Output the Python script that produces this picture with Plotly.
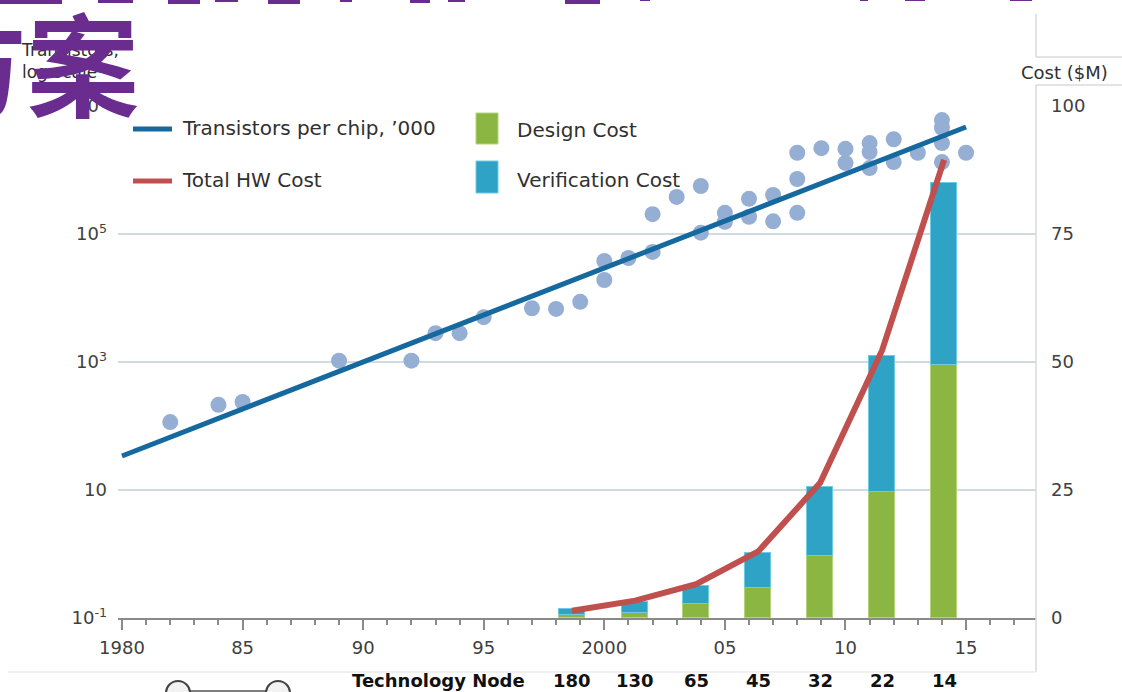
import plotly.graph_objects as go

# ---------------- data ----------------
dot_years = [1982, 1984, 1985, 1989, 1992, 1993, 1994, 1995, 1997, 1998, 1999,
             2000, 2000, 2001, 2002, 2002, 2003, 2004, 2004, 2005, 2005,
             2006, 2006, 2007, 2007, 2008, 2008, 2008, 2009, 2010, 2010,
             2011, 2011, 2011, 2012, 2012, 2013, 2014, 2014, 2014, 2014, 2015]
dot_transistors = [115, 214, 237, 1050, 1050, 2820, 2820, 5010, 6920, 6760, 8710,
                   19100, 38000, 42200, 52500, 204000, 380000, 562000, 105000, 214000, 155000,
                   355000, 186000, 407000, 158000, 1860000, 724000, 214000, 2190000, 2140000, 1290000,
                   2630000, 1910000, 1070000, 3020000, 1330000, 1860000, 6030000, 4570000, 2630000, 1330000, 1860000]

trend_years = [1980, 1990, 2000, 2010, 2015]
trend_transistors = [34, 1000, 29500, 870000, 4700000]

bar_years = [1998.66, 2001.28, 2003.81, 2006.38, 2008.95, 2011.52, 2014.09]
node_labels = ["180", "130", "65", "45", "32", "22", "14"]
design_cost = [0.6, 1.0, 2.7, 5.8, 12.1, 24.6, 49.4]
verification_cost = [1.1, 2.2, 3.55, 6.8, 13.4, 26.6, 35.6]
total_hw_cost = [1.4, 3.4, 6.6, 13.0, 26.4, 52.3, 89.5]

x_tickvals = [1980, 1985, 1990, 1995, 2000, 2005, 2010, 2015]
x_ticktext = ["1980", "85", "90", "95", "2000", "05", "10", "15"]
y_tickvals = [0.1, 10, 1e3, 1e5, 1e7]
y_ticktext = ["10<sup>-1</sup>", "10", "10<sup>3</sup>", "10<sup>5</sup>", "10<sup>7</sup>"]
y2_tickvals = [0, 25, 50, 75, 100]

# ---------------- layout helpers ----------------
W, H = 1122, 692
L, R, T, B = 118, 1036, 106, 618
PW, PH = R - L, B - T


def X(px):
    return (px - L) / PW


def Y(py):
    return (B - py) / PH


FONT = "DejaVu Sans"
TXT = "#404040"
BLUE = "#15699F"
RED = "#C0504D"
DOT = "#95AED4"
GREEN = "#8BB641"
CYAN = "#2EA3C6"

fig = go.Figure()

fig.add_trace(go.Scatter(x=dot_years, y=dot_transistors, mode="markers",
                         marker=dict(size=16, color=DOT), showlegend=False,
                         hoverinfo="skip"))
fig.add_trace(go.Scatter(x=trend_years, y=trend_transistors, mode="lines",
                         line=dict(color=BLUE, width=5), showlegend=False))
fig.add_trace(go.Bar(x=bar_years, y=design_cost, width=1.08, yaxis="y2",
                     marker=dict(color=GREEN, line=dict(color="#B3D47A", width=1)),
                     showlegend=False))
fig.add_trace(go.Bar(x=bar_years, y=verification_cost, width=1.08, yaxis="y2",
                     marker=dict(color=CYAN, line=dict(color="#6FCBE4", width=1)),
                     showlegend=False))
fig.add_trace(go.Scatter(x=bar_years, y=total_hw_cost, mode="lines", yaxis="y2",
                         line=dict(color=RED, width=6), showlegend=False))

shapes = []
annotations = []

# legend
shapes.append(dict(type="line", xref="paper", yref="paper", x0=X(133), x1=X(172),
                   y0=Y(129), y1=Y(129), line=dict(color=BLUE, width=5)))
shapes.append(dict(type="line", xref="paper", yref="paper", x0=X(133), x1=X(172),
                   y0=Y(181), y1=Y(181), line=dict(color=RED, width=5)))
shapes.append(dict(type="rect", xref="paper", yref="paper", x0=X(476), x1=X(498),
                   y0=Y(144), y1=Y(113), fillcolor=GREEN, line=dict(color="#B3D47A", width=1)))
shapes.append(dict(type="rect", xref="paper", yref="paper", x0=X(476), x1=X(498),
                   y0=Y(193), y1=Y(161), fillcolor=CYAN, line=dict(color="#6FCBE4", width=1)))
for txt, px, py in [("Transistors per chip, ’000", 180, 128), ("Total HW Cost", 180, 180),
                    ("Design Cost", 515, 130), ("Verification Cost", 515, 180)]:
    annotations.append(dict(text=txt, xref="paper", yref="paper", x=X(px), y=Y(py),
                            xanchor="left", yanchor="middle", showarrow=False,
                            font=dict(family=FONT, size=20, color="#303030")))

# axis titles
annotations.append(dict(text="Transistors,<br>log scale", xref="paper", yref="paper",
                        x=X(19), y=Y(38), xanchor="left", yanchor="top", align="left",
                        showarrow=False, font=dict(family=FONT, size=17, color="#303030")))
annotations.append(dict(text="Cost ($M)", xref="paper", yref="paper", x=X(1064), y=Y(72),
                        xanchor="center", yanchor="middle", showarrow=False,
                        font=dict(family=FONT, size=18, color="#303030")))

# technology nodes
annotations.append(dict(text="<b>Technology Node</b>", xref="paper", yref="paper",
                        x=X(438), y=Y(680), xanchor="center", yanchor="middle",
                        showarrow=False, font=dict(family=FONT, size=18, color="#111111")))
for yr, lab in zip(bar_years, node_labels):
    annotations.append(dict(text="<b>%s</b>" % lab, xref="x", yref="paper", x=yr, y=Y(680),
                            xanchor="center", yanchor="middle", showarrow=False,
                            font=dict(family=FONT, size=18, color="#111111")))

# frame lines of the slide
LG = "#DADADA"
shapes += [
    dict(type="line", xref="paper", yref="paper", x0=X(1036), x1=X(1036), y0=Y(14), y1=Y(57),
         line=dict(color=LG, width=1.5)),
    dict(type="line", xref="paper", yref="paper", x0=X(1036), x1=X(1122), y0=Y(57), y1=Y(57),
         line=dict(color=LG, width=1.5)),
    dict(type="line", xref="paper", yref="paper", x0=X(1036), x1=X(1122), y0=Y(85), y1=Y(85),
         line=dict(color=LG, width=1.5)),
    dict(type="line", xref="paper", yref="paper", x0=X(1036), x1=X(1036), y0=Y(85), y1=Y(672),
         line=dict(color=LG, width=1.5)),
    dict(type="line", xref="paper", yref="paper", x0=X(8), x1=X(1036), y0=Y(672), y1=Y(672),
         line=dict(color="#EBEBEB", width=1.5)),
]

# bottom widget (two handles)
shapes.append(dict(type="line", xref="paper", yref="paper", x0=X(190), x1=X(266), y0=Y(691),
                   y1=Y(691), line=dict(color="#555555", width=1.5)))
for cx in (178, 278):
    shapes.append(dict(type="circle", xref="paper", yref="paper", x0=X(cx - 12), x1=X(cx + 12),
                       y0=Y(705), y1=Y(681), fillcolor="#F2F2F2",
                       line=dict(color="#444444", width=2)))

# purple title fragments at the very top (cut off by the frame)
PURPLE = "#6A2C8F"
for x0, x1, h in [(0, 62, 4), (98, 133, 3), (168, 200, 4), (215, 238, 2), (268, 300, 4),
                  (340, 352, 2), (410, 430, 3), (448, 465, 2), (565, 600, 4), (640, 650, 1),
                  (860, 868, 1), (905, 925, 1), (1010, 1032, 1)]:
    shapes.append(dict(type="rect", xref="paper", yref="paper", x0=X(x0), x1=X(x1),
                       y0=Y(h), y1=Y(-2), fillcolor=PURPLE, line=dict(width=0)))

# big purple title text, partly cut off on the left
annotations.append(dict(text="方案", xref="paper", yref="paper", x=X(141), y=Y(60),
                        xanchor="right", yanchor="middle", showarrow=False,
                        font=dict(family="Noto Sans CJK SC", size=112, color=PURPLE,
                                  weight="bold")))

fig.update_layout(
    width=W, height=H,
    margin=dict(l=L, r=W - R, t=T, b=H - B),
    paper_bgcolor="white", plot_bgcolor="white",
    barmode="stack", bargap=0,
    font=dict(family=FONT, color=TXT),
    xaxis=dict(range=[1979.834, 2017.90], tickvals=x_tickvals, ticktext=x_ticktext,
               ticks="outside", ticklen=10, tickwidth=1.5, tickcolor="#8A8A8A",
               showline=True, linecolor="#8A8A8A", linewidth=1.5, showgrid=False,
               zeroline=False, tickfont=dict(size=18, color=TXT), ticklabelstandoff=3,
               minor=dict(dtick=1, tick0=1980, ticks="outside", ticklen=5, tickwidth=1.5,
                          tickcolor="#8A8A8A", showgrid=False)),
    yaxis=dict(type="log", range=[-1, 7], tickvals=y_tickvals, ticktext=y_ticktext,
               showgrid=True, gridcolor="#CFDAE3", gridwidth=1.5, zeroline=False,
               showline=False, ticks="", tickfont=dict(size=18, color=TXT),
               ticklabelstandoff=10),
    yaxis2=dict(overlaying="y", side="right", range=[0, 100], tickvals=y2_tickvals,
                showgrid=False, zeroline=False, showline=False, ticks="",
                tickfont=dict(size=18, color=TXT), ticklabelstandoff=14),
    shapes=shapes,
    annotations=annotations,
    showlegend=False,
)

fig.write_html("out.html")
